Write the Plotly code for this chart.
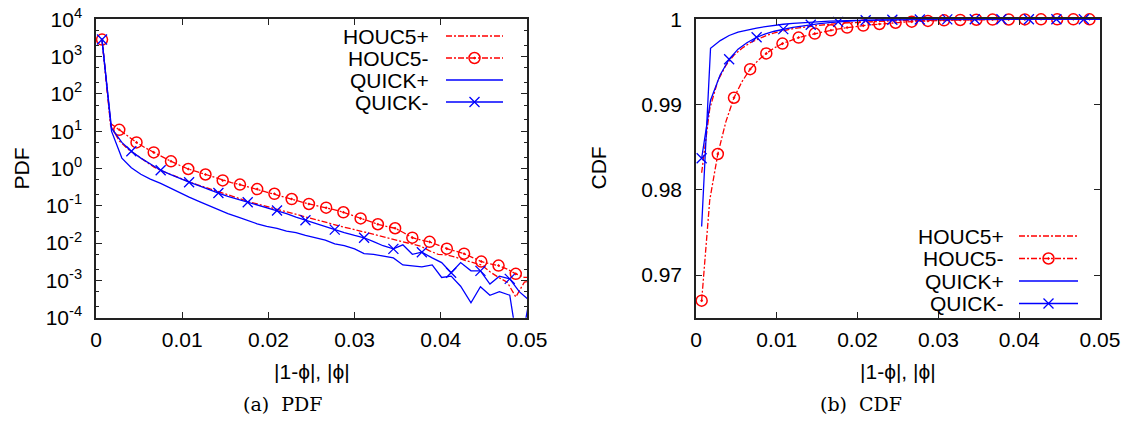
import plotly.graph_objects as go

# ---------------- data ----------------
houc_x = [0.0007, 0.0017, 0.0027, 0.0037, 0.0047, 0.0057, 0.0067, 0.0077, 0.0087, 0.0097,
          0.0107, 0.0117, 0.0127, 0.0137, 0.0147, 0.0157, 0.0167, 0.0177, 0.0187, 0.0197,
          0.0207, 0.0217, 0.0227, 0.0237, 0.0247, 0.0257, 0.0267, 0.0277, 0.0287, 0.0297,
          0.0307, 0.0317, 0.0327, 0.0337, 0.0347, 0.0357, 0.0367, 0.0377, 0.0387, 0.0397,
          0.0407, 0.0417, 0.0427, 0.0437, 0.0447, 0.0457, 0.0467, 0.0477, 0.0487, 0.0497,
          0.0507]
quick_x = [0.0007, 0.0018, 0.0030, 0.0041, 0.0052, 0.0063, 0.0075, 0.0086, 0.0097, 0.0108,
           0.0120, 0.0131, 0.0142, 0.0153, 0.0165, 0.0176, 0.0187, 0.0198, 0.0210, 0.0221,
           0.0232, 0.0243, 0.0255, 0.0266, 0.0277, 0.0288, 0.0300, 0.0311, 0.0322, 0.0333,
           0.0345, 0.0356, 0.0367, 0.0378, 0.0390, 0.0401, 0.0412, 0.0423, 0.0435, 0.0446,
           0.0457, 0.0468, 0.0480, 0.0491, 0.0502]

pdf_houc_plus = [2860, 14, 5.5, 3.3, 2.3, 1.6, 1.1, 0.85, 0.68, 0.55,
                 0.45, 0.37, 0.31, 0.26, 0.215, 0.18, 0.155, 0.13, 0.112, 0.097,
                 0.083, 0.071, 0.062, 0.054, 0.047, 0.041, 0.036, 0.031, 0.027, 0.024,
                 0.021, 0.018, 0.016, 0.014, 0.0125, 0.011, 0.0095, 0.0082, 0.0062, 0.0050,
                 0.0048, 0.0042, 0.0035, 0.0030, 0.0026, 0.0017, 0.0012, 0.0009, 0.00036, 0.0009,
                 0.001]
pdf_houc_minus = [2860, 16, 10.9, 7.2, 5.0, 3.6, 2.7, 2.0, 1.56, 1.22,
                  0.97, 0.82, 0.69, 0.58, 0.48, 0.42, 0.37, 0.32, 0.28, 0.24,
                  0.21, 0.18, 0.152, 0.13, 0.112, 0.10, 0.089, 0.078, 0.067, 0.056,
                  0.046, 0.038, 0.032, 0.028, 0.025, 0.019, 0.014, 0.012, 0.0108, 0.0088,
                  0.0071, 0.0061, 0.0052, 0.0041, 0.0032, 0.0028, 0.0025, 0.0020, 0.0015, 0.0012,
                  0.0012]
pdf_quick_plus = [2860, 10, 1.9, 1.05, 0.7, 0.52, 0.4, 0.3, 0.23, 0.17,
                  0.13, 0.1, 0.08, 0.062, 0.05, 0.04, 0.033, 0.028, 0.025, 0.021,
                  0.019, 0.016, 0.014, 0.012, 0.0095, 0.0085, 0.007, 0.0052, 0.005, 0.0045,
                  0.004, 0.0026, 0.0025, 0.0023, 0.0026, 0.0012, 0.0013, 0.0007, 0.00025, 0.00068,
                  0.0004, 0.0005, 0.0004, 0.00001, 0.00025]
pdf_quick_minus = [2860, 12, 5.0, 2.9, 1.9, 1.3, 0.9, 0.7, 0.54, 0.43,
                   0.34, 0.27, 0.22, 0.18, 0.15, 0.125, 0.105, 0.088, 0.075, 0.062,
                   0.05, 0.041, 0.034, 0.028, 0.023, 0.019, 0.016, 0.0139, 0.011, 0.0085,
                   0.0070, 0.009, 0.005, 0.0057, 0.004, 0.003, 0.0016, 0.003, 0.0018, 0.0018,
                   0.0008, 0.0013, 0.0011, 0.0005, 0.0003]

cdf_houc_plus = [0.982, 0.9895, 0.9928, 0.9946, 0.9958, 0.9966, 0.99725, 0.9977, 0.9981, 0.9984,
                 0.99865, 0.99885, 0.9990, 0.99913, 0.99925, 0.99935, 0.99944, 0.99952, 0.99958, 0.99964,
                 0.99969, 0.99973, 0.99977, 0.99980, 0.99983, 0.99985, 0.99987, 0.99989, 0.99990, 0.99992,
                 0.99993, 0.99994, 0.99995, 0.99996, 0.99997, 0.99997, 0.99998, 0.99998, 0.99999, 0.99999,
                 0.99999, 1.0, 1.0, 1.0, 1.0, 1.0, 1.0, 1.0, 1.0, 1.0,
                 1.0]
cdf_houc_minus = [0.9670, 0.9788, 0.9842, 0.9880, 0.9908, 0.9927, 0.99415, 0.9952, 0.9960, 0.99665,
                  0.99715, 0.99752, 0.99786, 0.99810, 0.99832, 0.99853, 0.99871, 0.99888, 0.99903, 0.99915,
                  0.99926, 0.99936, 0.99945, 0.99953, 0.99960, 0.99966, 0.99972, 0.99977, 0.99981, 0.99985,
                  0.99988, 0.99990, 0.99992, 0.99994, 0.99995, 0.99996, 0.99997, 0.99998, 0.99998, 0.99999,
                  0.99999, 0.99999, 1.0, 1.0, 1.0, 1.0, 1.0, 1.0, 1.0, 1.0,
                  1.0]
cdf_quick_plus = [0.9757, 0.9966, 0.9975, 0.9981, 0.9985, 0.99875, 0.99897, 0.99915, 0.9993, 0.99942,
                  0.99952, 0.9996, 0.99967, 0.99973, 0.99978, 0.99982, 0.99986, 0.99989, 0.99991, 0.99993,
                  0.99995, 0.99996, 0.99997, 0.99998, 0.99998, 0.99999, 0.99999, 0.99999, 1.0, 1.0,
                  1.0, 1.0, 1.0, 1.0, 1.0, 1.0, 1.0, 1.0, 1.0, 1.0,
                  1.0, 1.0, 1.0, 1.0, 1.0]
cdf_quick_minus = [0.9837, 0.9905, 0.9935, 0.99531, 0.9965, 0.99725, 0.99789, 0.99830, 0.99860, 0.99885,
                   0.99905, 0.99920, 0.99937, 0.99950, 0.99960, 0.99970, 0.99978, 0.99984, 0.99988, 0.99991,
                   0.99993, 0.99995, 0.99996, 0.99997, 0.99998, 0.99998, 0.99999, 0.99999, 0.99999, 1.0,
                   1.0, 1.0, 1.0, 1.0, 1.0, 1.0, 1.0, 1.0, 1.0, 1.0,
                   1.0, 1.0, 1.0, 1.0, 1.0]

series_names = ["HOUC5+", "HOUC5-", "QUICK+", "QUICK-"]
x_ticks = [0, 0.01, 0.02, 0.03, 0.04, 0.05]
x_ticktext = ["0", "0.01", "0.02", "0.03", "0.04", "0.05"]
pdf_ticks = [1e-4, 1e-3, 1e-2, 1e-1, 1e0, 1e1, 1e2, 1e3, 1e4]
pdf_ticktext = ["10<sup>-4</sup>", "10<sup>-3</sup>", "10<sup>-2</sup>", "10<sup>-1</sup>",
                "10<sup>0</sup>", "10<sup>1</sup>", "10<sup>2</sup>", "10<sup>3</sup>", "10<sup>4</sup>"]
cdf_ticks = [0.97, 0.98, 0.99, 1.0]
cdf_ticktext = ["0.97", "0.98", "0.99", "1"]

# ---------------- style ----------------
W, H = 1131, 427
RED = "#ff0000"
BLUE = "#0000ff"
DASHDOT = "6px,2px,2px,2px"
FONT = "Liberation Sans, Arial, sans-serif"
SERIF = "DejaVu Serif, Liberation Serif, serif"
FS = 21
MK_CIRCLE = dict(symbol="circle-open-dot", size=11, color=RED, line=dict(width=1.5, color=RED))
MK_X = dict(symbol="x-thin-open", size=10, color=BLUE, line=dict(width=1.3, color=BLUE))

fig = go.Figure()


def add_panel(xa, ya, hp, hm, qp, qm):
    # HOUC5+
    fig.add_trace(go.Scatter(x=houc_x, y=hp, mode="lines", xaxis=xa, yaxis=ya,
                             line=dict(color=RED, width=1.3, dash=DASHDOT), showlegend=False))
    # HOUC5-
    fig.add_trace(go.Scatter(x=houc_x, y=hm, mode="lines", xaxis=xa, yaxis=ya,
                             line=dict(color=RED, width=1.3, dash=DASHDOT), showlegend=False))
    fig.add_trace(go.Scatter(x=houc_x[:49:2], y=hm[:49:2], mode="markers", xaxis=xa, yaxis=ya,
                             marker=MK_CIRCLE, showlegend=False, cliponaxis=False))
    # QUICK+
    fig.add_trace(go.Scatter(x=quick_x, y=qp, mode="lines", xaxis=xa, yaxis=ya,
                             line=dict(color=BLUE, width=1.3), showlegend=False))
    # QUICK-
    fig.add_trace(go.Scatter(x=quick_x, y=qm, mode="lines", xaxis=xa, yaxis=ya,
                             line=dict(color=BLUE, width=1.3), showlegend=False))
    fig.add_trace(go.Scatter(x=quick_x[:43:3], y=qm[:43:3], mode="markers", xaxis=xa, yaxis=ya,
                             marker=MK_X, showlegend=False, cliponaxis=False))


add_panel("x", "y", pdf_houc_plus, pdf_houc_minus, pdf_quick_plus, pdf_quick_minus)
add_panel("x2", "y2", cdf_houc_plus, cdf_houc_minus, cdf_quick_plus, cdf_quick_minus)

# ---------------- manual gnuplot-style legends (pixel overlay axis) ----------------
legend_rows = {"left": dict(y=[36, 58, 80, 102], text_x=431, l0=446, l1=503),
               "right": dict(y=[236, 258.5, 281, 303.5], text_x=1006, l0=1019, l1=1078)}
styles = [(RED, DASHDOT, None), (RED, DASHDOT, MK_CIRCLE), (BLUE, "solid", None), (BLUE, "solid", MK_X)]
annotations = []
for key, lg in legend_rows.items():
    for name, yy, (col, dsh, mk) in zip(series_names, lg["y"], styles):
        fig.add_trace(go.Scatter(x=[lg["l0"], lg["l1"]], y=[yy, yy], mode="lines", xaxis="x3", yaxis="y3",
                                 line=dict(color=col, width=1.3, dash=dsh), showlegend=False,
                                 hoverinfo="skip", cliponaxis=False))
        if mk is not None:
            fig.add_trace(go.Scatter(x=[(lg["l0"] + lg["l1"]) / 2], y=[yy], mode="markers",
                                     xaxis="x3", yaxis="y3", marker=mk, showlegend=False,
                                     hoverinfo="skip", cliponaxis=False))
        annotations.append(dict(x=lg["text_x"], y=yy, xref="x3", yref="y3", text=name,
                                showarrow=False, xanchor="right", yanchor="middle",
                                font=dict(family=FONT, size=FS, color="black")))

# titles and captions
XLAB = "|1-\u03d5|, |\u03d5|"
for (tx, ty, txt, ang, fam, fs) in [
    (21, 168.5, "PDF", -90, FONT, FS),
    (598, 168.5, "CDF", -90, FONT, FS),
    (311.5, 371, XLAB, 0, FONT, FS),
    (898, 371, XLAB, 0, FONT, FS),
    (282, 404, "(a)&nbsp;&nbsp;PDF", 0, SERIF, 19),
    (861, 404, "(b)&nbsp;&nbsp;CDF", 0, SERIF, 19),
]:
    annotations.append(dict(x=tx, y=ty, xref="x3", yref="y3", text=txt, showarrow=False,
                            textangle=ang, xanchor="center", yanchor="middle",
                            font=dict(family=fam, size=fs, color="black")))

yb = (H - 317.7) / H
yt = (H - 19.3) / H
axis_common = dict(showgrid=False, zeroline=False, showline=True, linecolor="#222", linewidth=1.5,
                   mirror="ticks", ticks="inside", ticklen=6, tickcolor="#222", tickwidth=1.2,
                   automargin=False, tickfont=dict(family=FONT, size=FS, color="black"))

fig.update_layout(
    width=W, height=H, margin=dict(l=0, r=0, t=0, b=0, autoexpand=False),
    paper_bgcolor="white", plot_bgcolor="rgba(0,0,0,0)", showlegend=False,
    xaxis=dict(domain=[96 / W, 527 / W], range=[0, 0.05], tickvals=x_ticks, ticktext=x_ticktext,
               anchor="y", ticklabelstandoff=2, **axis_common),
    yaxis=dict(domain=[yb, yt], type="log", range=[-4, 4], tickvals=pdf_ticks, ticktext=pdf_ticktext,
               anchor="x", ticklabelstandoff=8,
               minor=dict(ticks="inside", ticklen=3, tickcolor="#222", dtick="D2", showgrid=False),
               **axis_common),
    xaxis2=dict(domain=[696 / W, 1100 / W], range=[0, 0.05], tickvals=x_ticks, ticktext=x_ticktext,
                anchor="y2", ticklabelstandoff=2, **axis_common),
    yaxis2=dict(domain=[yb, yt], range=[0.965, 1.0], tickvals=cdf_ticks, ticktext=cdf_ticktext,
                anchor="x2", ticklabelstandoff=8, **axis_common),
    xaxis3=dict(domain=[0, 1], range=[0, W], visible=False, fixedrange=True, anchor="y3", automargin=False),
    yaxis3=dict(domain=[0, 1], range=[H, 0], visible=False, fixedrange=True, anchor="x3", automargin=False),
    annotations=annotations,
)

fig.write_html("out.html")
